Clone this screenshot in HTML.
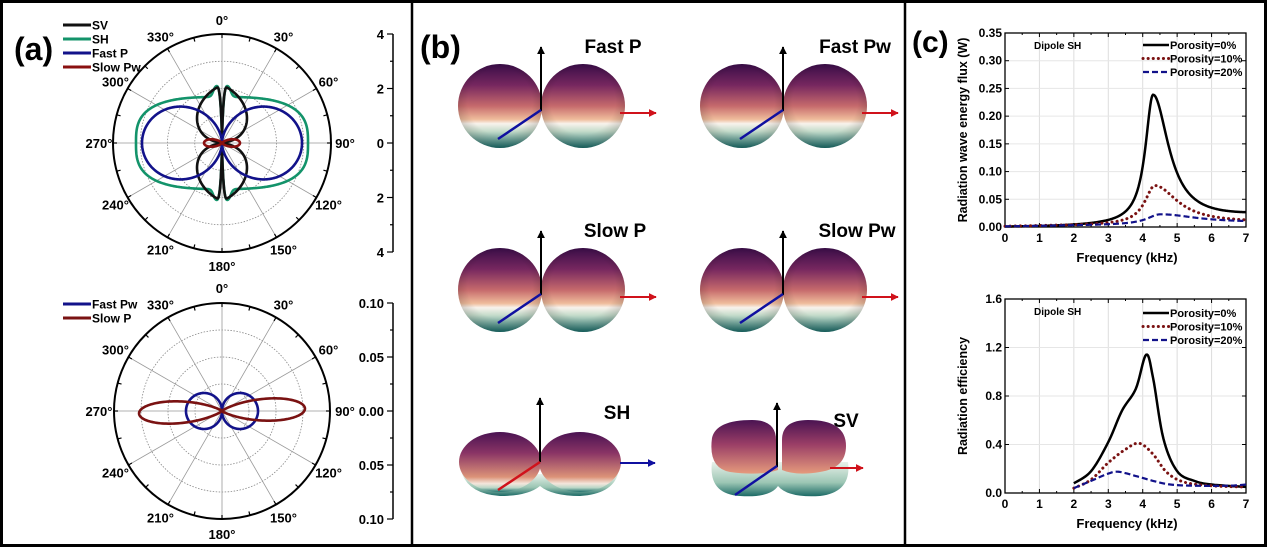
<!DOCTYPE html>
<html><head><meta charset="utf-8"><style>
html,body{margin:0;padding:0;background:#fff;}
svg{display:block;font-family:"Liberation Sans",Arial,sans-serif;font-weight:bold;}
</style></head><body>
<svg id="s" width="1267" height="547" viewBox="0 0 1267 547" xmlns="http://www.w3.org/2000/svg">
<defs>
<linearGradient id="sg" x1="0" y1="0" x2="0" y2="1">
<stop offset="0" stop-color="#3a0d48"/><stop offset="0.25" stop-color="#76275f"/>
<stop offset="0.5" stop-color="#c66a6c"/><stop offset="0.66" stop-color="#efbd9c"/>
<stop offset="0.71" stop-color="#f8f2ec"/><stop offset="0.8" stop-color="#c5dccb"/>
<stop offset="1" stop-color="#1b6f6c"/></linearGradient>
<radialGradient id="sh" cx="0.5" cy="0.45" r="0.55"><stop offset="0.7" stop-color="#000" stop-opacity="0"/><stop offset="1" stop-color="#000" stop-opacity="0.18"/></radialGradient>
<linearGradient id="bg2" x1="0" y1="0" x2="0" y2="1">
<stop offset="0" stop-color="#4a1352"/><stop offset="0.35" stop-color="#8a3465"/>
<stop offset="0.75" stop-color="#dc9378"/><stop offset="0.86" stop-color="#f4e6dc"/>
<stop offset="0.93" stop-color="#b9d6c6"/><stop offset="1" stop-color="#1f6f6b"/></linearGradient>
<linearGradient id="tg" x1="0" y1="0" x2="0" y2="1">
<stop offset="0" stop-color="#e9f1ea"/><stop offset="0.6" stop-color="#9cc6b4"/><stop offset="1" stop-color="#1c6a66"/></linearGradient>
<linearGradient id="pg" x1="0" y1="0" x2="0" y2="1">
<stop offset="0" stop-color="#4a1352"/><stop offset="0.45" stop-color="#9a3e66"/><stop offset="1" stop-color="#e59a7c"/></linearGradient>
<marker id="ak" viewBox="0 0 10 10" refX="9" refY="5" markerWidth="4" markerHeight="4" orient="auto"><path d="M0,0L10,5L0,10z" fill="#000"/></marker>
<marker id="ar" viewBox="0 0 10 10" refX="9" refY="5" markerWidth="4" markerHeight="4" orient="auto"><path d="M0,0L10,5L0,10z" fill="#d0121b"/></marker>
<marker id="ab" viewBox="0 0 10 10" refX="9" refY="5" markerWidth="4" markerHeight="4" orient="auto"><path d="M0,0L10,5L0,10z" fill="#1010a0"/></marker>
</defs>
<rect x="1.5" y="1.5" width="1264" height="544" fill="#fff" stroke="#000" stroke-width="3"/>
<line x1="412" y1="0" x2="412" y2="547" stroke="#000" stroke-width="2.5"/>
<line x1="905" y1="0" x2="905" y2="547" stroke="#000" stroke-width="2.5"/>
<g id="a"></g><g id="b"></g><g id="c"></g>
</svg>
<script>
const NS="http://www.w3.org/2000/svg";
function el(p,t,a,txt){const e=document.createElementNS(NS,t);for(const k in a)e.setAttribute(k,a[k]);if(txt!==undefined)e.textContent=txt;p.appendChild(e);return e;}
const A=document.getElementById('a'),B=document.getElementById('b'),C=document.getElementById('c');
el(A,'text',{x:14,y:60,'font-size':32},'(a)');
function polar(cy,R,labs,curves,leg,legY){
 const cx=222;
 for(let k=1;k<=3;k++)el(A,'circle',{cx,cy,r:R*k/4,fill:'none',stroke:'#888','stroke-width':0.8,'stroke-dasharray':'1.5,1.5'});
 for(let a=0;a<180;a+=30){const t=a*Math.PI/180;el(A,'line',{x1:cx-R*Math.sin(t),y1:cy+R*Math.cos(t),x2:cx+R*Math.sin(t),y2:cy-R*Math.cos(t),stroke:'#999','stroke-width':0.8});}
 el(A,'circle',{cx,cy,r:R,fill:'none',stroke:'#000','stroke-width':2});
 for(let a=0;a<360;a+=15){const t=a*Math.PI/180;el(A,'line',{x1:cx+R*Math.sin(t),y1:cy-R*Math.cos(t),x2:cx+(R-4)*Math.sin(t),y2:cy-(R-4)*Math.cos(t),stroke:'#000','stroke-width':1.2});}
 for(let a=0;a<360;a+=30){const t=a*Math.PI/180;const d=123;el(A,'text',{x:cx+d*Math.sin(t),y:cy-d*Math.cos(t)+5,'font-size':13,'text-anchor':'middle'},a+'°');}
 el(A,'line',{x1:393,y1:cy-R,x2:393,y2:cy+R,stroke:'#000','stroke-width':1.5});
 for(let i=0;i<=8;i++){const y=cy-R+i*R/4;el(A,'line',{x1:i%2?390:387,y1:y,x2:393,y2:y,stroke:'#000','stroke-width':1.2});}
 labs.forEach((l,i)=>el(A,'text',{x:384,y:cy-R+i*R/2+5,'font-size':13,'text-anchor':'end'},l));
 curves.forEach(c=>{let d='';for(let i=0;i<=720;i++){const th=i/2*Math.PI/180;const r=c.f(th);const x=cx+r*Math.sin(th+(c.rot||0)),y=cy-r*Math.cos(th+(c.rot||0));d+=(i?'L':'M')+x.toFixed(2)+','+y.toFixed(2);}el(A,'path',{d:d+'Z',fill:'none',stroke:c.col,'stroke-width':2.6});});
 leg.forEach((g,i)=>{const y=legY+i*14;el(A,'line',{x1:63,y1:y,x2:91,y2:y,stroke:g[1],'stroke-width':3});el(A,'text',{x:92,y:y+4.5,'font-size':12},g[0]);});
}
const ph=t=>Math.acos(Math.min(1,Math.abs(Math.cos(t))));
const pinch=p=>1-Math.exp(-Math.pow(p/0.035,2));
const SH=t=>{const p=ph(t),s=Math.sin(p),c=Math.cos(p);const q=3;let r=1/Math.pow(Math.pow(s/86,q)+Math.pow(c/46,q),1/q);r+=11*Math.exp(-Math.pow((p-0.09)/0.1,2));return r*pinch(p);};
const SV=t=>{const p=ph(t);const u=Math.max(0,1-p/(80*Math.PI/180));return 58*Math.pow(u,0.6)*pinch(p);};
const FP=t=>80*Math.pow(Math.abs(Math.sin(t)),1.3);
const SPw=t=>18*Math.pow(Math.abs(Math.sin(t)),8);
polar(143,109,['4','2','0','2','4'],[{f:SH,col:'#13936a'},{f:SV,col:'#111'},{f:FP,col:'#12128a'},{f:SPw,col:'#8a1010'}],[['SV','#111'],['SH','#13936a'],['Fast P','#12128a'],['Slow Pw','#8a1010']],25);
polar(411,108,['0.10','0.05','0.00','0.05','0.10'],[{f:t=>36*Math.abs(Math.sin(t)),col:'#12128a'},{f:t=>83*Math.pow(Math.abs(Math.sin(t)),20),col:'#7a1212',rot:-0.03}],[['Fast Pw','#12128a'],['Slow P','#7a1212']],304);

// panel b
el(B,'text',{x:420,y:58,'font-size':32},'(b)');
function spheres(ox,oy,lab,lx){
 [0,83].forEach(dx=>{el(B,'circle',{cx:500+ox+dx,cy:106+oy,r:42,fill:'url(#sg)'});el(B,'circle',{cx:500+ox+dx,cy:106+oy,r:42,fill:'url(#sh)'});});
 el(B,'line',{x1:541+ox,y1:111+oy,x2:541+ox,y2:47+oy,stroke:'#000','stroke-width':2,'marker-end':'url(#ak)'});
 el(B,'line',{x1:541+ox,y1:110+oy,x2:498+ox,y2:139+oy,stroke:'#1010a0','stroke-width':2.5});
 el(B,'line',{x1:620+ox,y1:113+oy,x2:656+ox,y2:113+oy,stroke:'#d0121b','stroke-width':2,'marker-end':'url(#ar)'});
 el(B,'text',{x:lx,y:53+oy,'font-size':19,'text-anchor':'middle'},lab);
}
spheres(0,0,'Fast P',613);spheres(242,0,'Fast Pw',855);spheres(0,184,'Slow P',615);spheres(242,184,'Slow Pw',857);
// SH
el(B,'path',{d:'M462,474 Q470,494 500,496 Q528,496 540,486 Q552,496 580,496 Q612,494 618,474 Z',fill:'url(#tg)'});
el(B,'ellipse',{cx:500,cy:462,rx:41,ry:30,fill:'url(#bg2)'});
el(B,'ellipse',{cx:580,cy:462,rx:41,ry:30,fill:'url(#bg2)'});
el(B,'line',{x1:540,y1:462,x2:540,y2:398,stroke:'#000','stroke-width':2,'marker-end':'url(#ak)'});
el(B,'line',{x1:540,y1:462,x2:498,y2:490,stroke:'#d0121b','stroke-width':2.5});
el(B,'line',{x1:620,y1:463,x2:655,y2:463,stroke:'#1010a0','stroke-width':2,'marker-end':'url(#ab)'});
el(B,'text',{x:617,y:419,'font-size':19,'text-anchor':'middle'},'SH');
// SV
el(B,'path',{d:'M712,462 Q708,494 740,496 Q770,498 778,486 Q788,498 820,496 Q852,492 848,462 Z',fill:'url(#tg)'});
el(B,'path',{d:'M712,438 Q716,420 752,420 Q776,420 776,440 L778,470 Q760,476 730,472 Q708,468 712,438 Z',fill:'url(#pg)'});
el(B,'path',{d:'M782,440 Q782,420 808,420 Q846,420 846,446 Q846,468 820,472 Q796,476 782,470 Z',fill:'url(#pg)'});
el(B,'line',{x1:777,y1:467,x2:777,y2:403,stroke:'#000','stroke-width':2,'marker-end':'url(#ak)'});
el(B,'line',{x1:777,y1:466,x2:735,y2:495,stroke:'#1010a0','stroke-width':2.5});
el(B,'line',{x1:830,y1:468,x2:863,y2:468,stroke:'#d0121b','stroke-width':2,'marker-end':'url(#ar)'});
el(B,'text',{x:846,y:427,'font-size':19,'text-anchor':'middle'},'SV');

// panel c
el(C,'text',{x:912,y:52,'font-size':30},'(c)');
function chart(y0,y1,ymax,yt,ylab,series,leg){
 const x0=1005,x1=1246;const X=f=>x0+f/7*(x1-x0),Y=v=>y0-v/ymax*(y0-y1);
 for(let f=1;f<7;f++)el(C,'line',{x1:X(f),y1:y1,x2:X(f),y2:y0,stroke:'#ddd','stroke-width':1});
 yt.forEach(v=>el(C,'line',{x1:x0,y1:Y(v),x2:x1,y2:Y(v),stroke:'#e6e6e6','stroke-width':1}));
 el(C,'rect',{x:x0,y:y1,width:x1-x0,height:y0-y1,fill:'none',stroke:'#000','stroke-width':1.3});
 for(let f=0;f<=7;f+=0.5){el(C,'line',{x1:X(f),y1:y0,x2:X(f),y2:y0-(f%1?2:4),stroke:'#000'});el(C,'line',{x1:X(f),y1:y1,x2:X(f),y2:y1+(f%1?2:4),stroke:'#000'});}
 for(let f=0;f<=7;f++)el(C,'text',{x:X(f),y:y0+15,'font-size':12,'text-anchor':'middle'},f);
 yt.forEach((v,i)=>{el(C,'text',{x:x0-3,y:Y(v)+4,'font-size':12,'text-anchor':'end'},v.toFixed(ymax>1?1:2));el(C,'line',{x1:x0,y1:Y(v),x2:x0+4,y2:Y(v),stroke:'#000'});el(C,'line',{x1:x1,y1:Y(v),x2:x1-4,y2:Y(v),stroke:'#000'});});
 el(C,'text',{x:1127,y:y0+35,'font-size':13,'text-anchor':'middle'},'Frequency  (kHz)');
 el(C,'text',{x:0,y:0,'font-size':12.5,'text-anchor':'middle',transform:`translate(967,${(y0+y1)/2}) rotate(-90)`},ylab);
 el(C,'text',{x:1034,y:y1+16,'font-size':10},'Dipole SH');
 series.forEach(s=>{let d='';s.pts.forEach((p,i)=>{d+=(i?'L':'M')+X(p[0]).toFixed(2)+','+Y(p[1]).toFixed(2);});el(C,'path',{d,fill:'none',stroke:s.col,'stroke-width':s.w,'stroke-dasharray':s.da||'none','stroke-linecap':s.lc||'butt'});});
 const st=[['#000',2.5,'none','butt'],['#7a1212',3,'0.1,5','round'],['#12128a',2.2,'6,3','butt']];
 ['Porosity=0%','Porosity=10%','Porosity=20%'].forEach((t,i)=>{const y=leg+i*13.5;el(C,'line',{x1:1143,y1:y,x2:1169,y2:y,stroke:st[i][0],'stroke-width':st[i][1],'stroke-dasharray':st[i][2],'stroke-linecap':st[i][3]});el(C,'text',{x:1170,y:y+4,'font-size':11},t);});
}
function gen(fn,a,b){const p=[];for(let f=a;f<=b+1e-9;f+=0.02)p.push([f,fn(f)]);return p;}
const lor=(f,f0,A,wl,wr)=>{const w=f<f0?wl:wr;return A/(1+Math.pow((f-f0)/w,2));};
const s1=[
 {col:'#000',w:2.5,pts:gen(f=>lor(f,4.3,0.232,0.27,0.55)+0.0025*f*f/7*1.0,0,7)},
 {col:'#7a1212',w:3,da:'0.1,5',lc:'round',pts:gen(f=>lor(f,4.35,0.07,0.35,0.8)+0.006*f/7+0.001,0,7)},
 {col:'#12128a',w:2.2,da:'6,3',pts:gen(f=>lor(f,4.5,0.018,0.45,1.3)+0.006*f/7+0.001,0,7)}];
chart(227,33,0.35,[0,0.05,0.1,0.15,0.2,0.25,0.3,0.35],'Radiation wave energy flux  (W)',s1,45);
function interp(pts){const out=[];for(let i=0;i<pts.length-1;i++){const p0=pts[Math.max(0,i-1)],p1=pts[i],p2=pts[i+1],p3=pts[Math.min(pts.length-1,i+2)];for(let t=0;t<1;t+=0.1){const t2=t*t,t3=t2*t;const c=(a,b,c2,d)=>0.5*((2*b)+(-a+c2)*t+(2*a-5*b+4*c2-d)*t2+(-a+3*b-3*c2+d)*t3);out.push([c(p0[0],p1[0],p2[0],p3[0]),c(p0[1],p1[1],p2[1],p3[1])]);}}out.push(pts[pts.length-1]);return out;}
const s2=[
 {col:'#000',w:2.5,pts:interp([[2,0.08],[2.5,0.18],[3,0.42],[3.4,0.68],[3.8,0.86],[4.1,1.14],[4.3,0.95],[4.6,0.45],[5,0.18],[5.5,0.1],[6,0.07],[7,0.05]])},
 {col:'#7a1212',w:3,da:'0.1,5',lc:'round',pts:interp([[2,0.04],[2.5,0.11],[3,0.25],[3.5,0.36],[3.9,0.41],[4.3,0.32],[4.7,0.17],[5.2,0.09],[6,0.06],[7,0.05]])},
 {col:'#12128a',w:2.2,da:'6,3',pts:interp([[2,0.04],[2.5,0.1],[3,0.16],[3.3,0.175],[3.8,0.14],[4.3,0.1],[4.8,0.07],[5.5,0.06],[6.5,0.06],[7,0.07]])}];
chart(493,299,1.6,[0,0.4,0.8,1.2,1.6],'Radiation efficiency',s2,313);
</script>
</body></html>
